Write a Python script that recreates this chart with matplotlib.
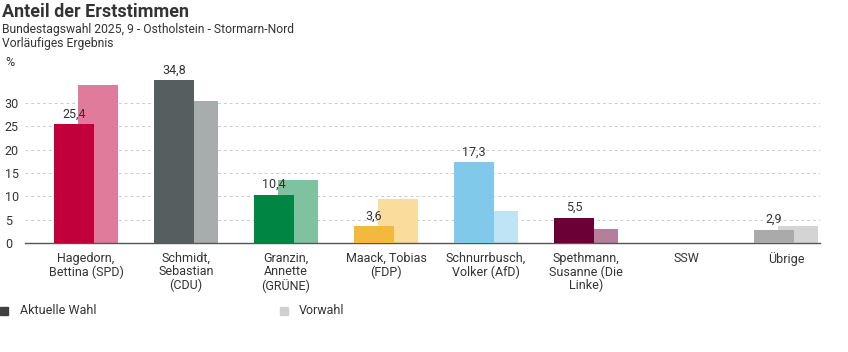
import matplotlib
matplotlib.use("Agg")
import matplotlib.pyplot as plt
import matplotlib.font_manager as fm
import numpy as np

names = {f.name for f in fm.fontManager.ttflist}
narrow = 'Liberation Sans Narrow' if 'Liberation Sans Narrow' in names else 'Roboto'
plt.rcParams['font.family'] = [narrow, 'DejaVu Sans']

# Daten
kandidaten = ["Hagedorn,\nBettina (SPD)", "Schmidt,\nSebastian\n(CDU)", "Granzin,\nAnnette\n(GRÜNE)",
              "Maack, Tobias\n(FDP)", "Schnurrbusch,\nVolker (AfD)", "Spethmann,\nSusanne (Die\nLinke)",
              "SSW", "Übrige"]
aktuell = [25.4, 34.8, 10.4, 3.6, 17.3, 5.5, 0.0, 2.9]
vorwahl = [33.8, 30.3, 13.5, 9.4, 6.9, 3.0, 0.0, 3.7]
farbe_akt = ["#c1003b", "#575e60", "#008542", "#f4b83f", "#80c9ea", "#6b0037", "#999999", "#aaaaaa"]
farbe_vor = ["#e07b9b", "#a8acad", "#7fc29f", "#fadd9d", "#bfe4f5", "#b47f9b", "#cccccc", "#d4d4d4"]
y_ticks = [0, 5, 10, 15, 20, 25, 30]

W, H = 848, 352
fig = plt.figure(figsize=(W / 100, H / 100), dpi=100)
ax = fig.add_axes([25 / W, (H - 243.3) / H, 795 / W, 173.3 / H])

x = np.arange(len(kandidaten))
bw = 0.40
off = 0.24
# Vorwahl hinten, aktuelle Wahl vorne
ax.bar(x - 0.12 + off, vorwahl, width=bw, color=farbe_vor, zorder=2)
ax.bar(x - 0.12, aktuell, width=bw, color=farbe_akt, zorder=3)

for xi, v in zip(x, aktuell):
    if v > 0:
        ax.text(xi - 0.12, v + 0.8, f"{v:.1f}".replace(".", ","), ha="center", va="bottom",
                fontsize=9, color="#333333", zorder=4)

ax.set_xlim(-0.61, 7.34)
ax.set_ylim(0, 37)
ax.set_yticks(y_ticks)
ax.set_yticklabels([str(t) for t in y_ticks], ha="left", fontsize=9, color="#333333")
ax.tick_params(axis="y", length=0, pad=14.5)
ax.set_xticks(x)
ax.set_xticklabels(kandidaten, fontsize=9, color="#333333", linespacing=1.05)
ax.tick_params(axis="x", length=0, pad=6)
for t in y_ticks[1:]:
    ax.axhline(t, color="#cccccc", lw=0.7, ls=(0, (3, 3)), zorder=1)
for s in ["top", "right", "left"]:
    ax.spines[s].set_visible(False)
ax.spines["bottom"].set_color("#555555")
ax.spines["bottom"].set_linewidth(1.0)

fig.text(2 / W, 1 - 12 / H, "Anteil der Erststimmen", fontsize=13, fontweight="bold",
         color="#333333", va="center", ha="left")
fig.text(2 / W, 1 - 29 / H, "Bundestagswahl 2025, 9 - Ostholstein - Stormarn-Nord", fontsize=8.7,
         color="#333333", va="center", ha="left")
fig.text(2 / W, 1 - 43 / H, "Vorläufiges Ergebnis", fontsize=8.7, color="#333333", va="center", ha="left")
fig.text(5 / W, 1 - 62 / H, "%", fontsize=9, color="#333333", va="center", ha="left")

# Legende
fig.patches.append(plt.Rectangle((0, 1 - 315 / H), 8 / W, 8 / H, transform=fig.transFigure,
                                 color="#404040", figure=fig))
fig.text(20 / W, 1 - 311 / H, "Aktuelle Wahl", fontsize=9, color="#333333", va="center", ha="left")
fig.patches.append(plt.Rectangle((280 / W, 1 - 315 / H), 8 / W, 8 / H, transform=fig.transFigure,
                                 color="#d0d0d0", figure=fig))
fig.text(299 / W, 1 - 311 / H, "Vorwahl", fontsize=9, color="#333333", va="center", ha="left")

fig.savefig("out.png", dpi=100)
